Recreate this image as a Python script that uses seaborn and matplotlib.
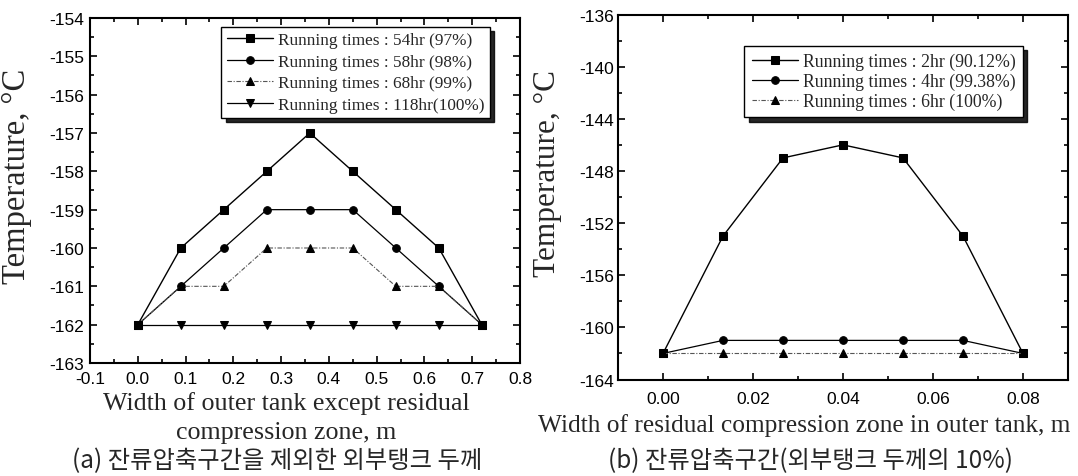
import numpy as np
import pandas as pd
import matplotlib
matplotlib.use("Agg")
import matplotlib.pyplot as plt
from matplotlib.ticker import MultipleLocator
import seaborn as sns

# ---- data: panel (a) ----
x_a = [0.0, 0.09, 0.18, 0.27, 0.36, 0.45, 0.54, 0.63, 0.72]
t_54hr = [-162, -160, -159, -158, -157, -158, -159, -160, -162]
t_58hr = [-162, -161, -160, -159, -159, -159, -160, -161, -162]
t_68hr = [-162, -161, -161, -160, -160, -160, -161, -161, -162]
t_118hr = [-162, -162, -162, -162, -162, -162, -162, -162, -162]
labels_a = ["Running times : 54hr (97%)", "Running times : 58hr (98%)",
            "Running times : 68hr (99%)", "Running times : 118hr(100%)"]

# ---- data: panel (b) ----
x_b = [0.0, 0.01333, 0.02667, 0.04, 0.05333, 0.06667, 0.08]
t_2hr = [-162, -153, -147, -146, -147, -153, -162]
t_4hr = [-162, -161, -161, -161, -161, -161, -162]
t_6hr = [-162, -162, -162, -162, -162, -162, -162]
labels_b = ["Running times : 2hr (90.12%)", "Running times : 4hr (99.38%)",
            "Running times : 6hr (100%)"]

sns.set_style("ticks")
plt.rcParams['font.family'] = ['Liberation Sans', 'DejaVu Sans']
plt.rcParams['axes.unicode_minus'] = False
plt.rcParams['xtick.direction'] = 'in'
plt.rcParams['ytick.direction'] = 'in'

SERIF = ['Liberation Serif', 'DejaVu Serif']
KR = ['Noto Sans CJK KR', 'DejaVu Sans']

fig = plt.figure(figsize=(10.78, 4.77), dpi=100)
ax1 = fig.add_axes([0.0835, 0.2369, 0.3989, 0.7233])
ax2 = fig.add_axes([0.5733, 0.2023, 0.4174, 0.7652])

styles_a = [
    dict(marker='s', color='black', linestyle='-', lw=1.0),
    dict(marker='o', color='black', linestyle='-', lw=0.9),
    dict(marker='^', color='#555555', linestyle=(0, (4, 1.5, 1, 1.5)), lw=0.8),
    dict(marker='v', color='black', linestyle='-', lw=0.9),
]
for ys, lab, st in zip([t_54hr, t_58hr, t_68hr, t_118hr], labels_a, styles_a):
    sns.lineplot(x=x_a, y=ys, ax=ax1, label=lab, marker=st['marker'], color=st['color'],
                 linestyle=st['linestyle'], linewidth=st['lw'], markersize=5.5,
                 markeredgecolor='black', markerfacecolor='black')

styles_b = [
    dict(marker='s', color='black', linestyle='-', lw=1.0),
    dict(marker='o', color='black', linestyle='-', lw=0.9),
    dict(marker='^', color='#555555', linestyle=(0, (4, 1.5, 1, 1.5)), lw=0.8),
]
for ys, lab, st in zip([t_2hr, t_4hr, t_6hr], labels_b, styles_b):
    sns.lineplot(x=x_b, y=ys, ax=ax2, label=lab, marker=st['marker'], color=st['color'],
                 linestyle=st['linestyle'], linewidth=st['lw'], markersize=5.5,
                 markeredgecolor='black', markerfacecolor='black')

ax1.set_xlim(-0.1, 0.8)
ax1.set_ylim(-163, -154)
ax1.xaxis.set_minor_locator(MultipleLocator(0.05))
ax1.yaxis.set_major_locator(MultipleLocator(1))
ax1.yaxis.set_minor_locator(MultipleLocator(0.5))
ax1.set_xticks([round(v, 1) for v in np.arange(-0.1, 0.81, 0.1)])
ax1.set_xticklabels([f"{v:.1f}" for v in ax1.get_xticks()])

ax2.set_xlim(-0.01, 0.09)
ax2.set_ylim(-164, -136)
ax2.xaxis.set_minor_locator(MultipleLocator(0.01))
ax2.yaxis.set_major_locator(MultipleLocator(4))
ax2.yaxis.set_minor_locator(MultipleLocator(2))
ax2.set_xticks([0.0, 0.02, 0.04, 0.06, 0.08])
ax2.set_xticklabels(["0.00", "0.02", "0.04", "0.06", "0.08"])

for ax in (ax1, ax2):
    for sp in ax.spines.values():
        sp.set_visible(True)
        sp.set_linewidth(1.5)
        sp.set_color('black')
    ax.tick_params(which='both', top=True, right=True, direction='in', labelsize=12.5,
                   width=1.2, colors='black')
    ax.tick_params(which='major', length=5)
    ax.tick_params(which='minor', length=3)

ax1.tick_params(axis='x', pad=6)
ax1.tick_params(axis='y', pad=4)
ax2.tick_params(axis='x', pad=8)
ax2.tick_params(axis='y', pad=3)

ax1.set_ylabel("Temperature, °C", family=SERIF, fontsize=23.5)
ax1.yaxis.set_label_coords(-0.135, 0.545)
ax2.set_ylabel("Temperature, °C", family=SERIF, fontsize=22.5)
ax2.yaxis.set_label_coords(-0.124, 0.568)

shadow = {'ox': 3, 'oy': -3, 'color': 'black', 'alpha': 0.85}
leg1 = ax1.legend(loc='upper right', bbox_to_anchor=(0.930, 0.974), frameon=True,
                  shadow=shadow, fancybox=False, edgecolor='black',
                  prop={'family': SERIF, 'size': 12.4}, handlelength=2.7,
                  handletextpad=0.3, borderpad=0.3, labelspacing=0.32, borderaxespad=0.0)
leg2 = ax2.legend(loc='upper right', bbox_to_anchor=(0.900, 0.914), frameon=True,
                  shadow=shadow, fancybox=False, edgecolor='black',
                  prop={'family': SERIF, 'size': 12.8}, handlelength=2.6,
                  handletextpad=0.3, borderpad=0.4, labelspacing=0.15, borderaxespad=0.0)
for leg in (leg1, leg2):
    leg.get_frame().set_linewidth(1.0)
    leg.get_frame().set_alpha(1.0)

ax1.set_xlabel("Width of outer tank except residual\ncompression zone, m", family=SERIF,
               fontsize=18.7, linespacing=1.45)
ax1.xaxis.set_label_coords(0.456, -0.08)
ax2.set_xlabel("Width of residual compression zone in outer tank, m", family=SERIF,
               fontsize=18.3)
ax2.xaxis.set_label_coords(0.413, -0.093)

fig.text(0.257, 0.033, "(a) 잔류압축구간을 제외한 외부탱크 두께", family=KR, fontsize=17.5,
         ha='center', va='center')
fig.text(0.752, 0.033, "(b) 잔류압축구간(외부탱크 두께의 10%)", family=KR, fontsize=17.5,
         ha='center', va='center')

fig.savefig("out.png", dpi=100)
